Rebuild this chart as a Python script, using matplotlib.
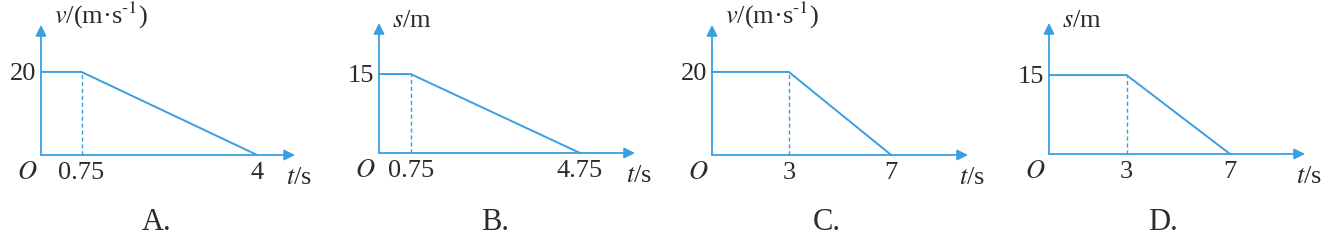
import matplotlib
matplotlib.use("Agg")
import matplotlib.pyplot as plt

# ---- chart values -------------------------------------------------------
panel_names = ["A.", "B.", "C.", "D."]
y_names = [r"$v$/(m·s$^{\text{-1}}$)", r"$s$/m",
           r"$v$/(m·s$^{\text{-1}}$)", r"$s$/m"]
top_values = [20, 15, 20, 15]
knee_times = [0.75, 0.75, 3, 3]
end_times = [4, 4.75, 7, 7]
knee_labels = ["0.75", "0.75", "3", "3"]
end_labels = ["4", "4.75", "7", "7"]

# ---- layout (pixels in a 1326x245 canvas) -------------------------------
W, H = 1326, 245
# origin x, origin y (from top), arrow tip x, arrow top y
boxes = [(41, 155, 295, 25), (379, 153, 635, 23),
         (712, 155, 968, 25), (1049, 154, 1305, 23)]
x_spans = [4.70, 6.05, 10.0, 9.9]
y_spans = [31.3, 24.7, 31.3, 24.9]
ylab_dy = [10, 2, 10, 2]
letter_x = [157, 495, 827, 1163]

blue = "#3a9fe0"
ink = "#2b2b2b"
plt.rcParams["font.family"] = ["Liberation Serif", "DejaVu Serif"]
plt.rcParams["mathtext.fontset"] = "stix"

fig = plt.figure(figsize=(W / 100, H / 100), dpi=100)
fig.patch.set_facecolor("white")

for i in range(4):
    x0, y0, xt, yt = boxes[i]
    ax = fig.add_axes([x0 / W, (H - y0) / H, (xt - x0) / W, (y0 - yt) / H])
    ax.set_xlim(0, x_spans[i])
    ax.set_ylim(0, y_spans[i])
    ax.axis("off")

    arrow = dict(arrowstyle="-|>", color=blue, lw=1.3, mutation_scale=16,
                 shrinkA=0, shrinkB=0)
    ax.annotate("", xy=(x_spans[i], 0), xytext=(0, 0), arrowprops=arrow,
                annotation_clip=False)
    ax.annotate("", xy=(0, y_spans[i]), xytext=(0, 0), arrowprops=arrow,
                annotation_clip=False)

    ax.plot([0, knee_times[i], end_times[i]],
            [top_values[i], top_values[i], 0],
            color=blue, lw=1.4, clip_on=False, solid_joinstyle="miter")
    ax.plot([knee_times[i], knee_times[i]], [0, top_values[i]],
            color=blue, lw=1.0, dashes=(3, 2), clip_on=False)

    tk = dict(textcoords="offset pixels", fontsize=19, color=ink,
              annotation_clip=False)
    ax.annotate(y_names[i], xy=(0, y_spans[i]), xytext=(13, ylab_dy[i]),
                ha="left", va="center", **tk)
    ax.annotate(str(top_values[i]), xy=(0, top_values[i]), xytext=(-5, -2),
                ha="right", va="center", **tk)
    ax.annotate(r"$O$", xy=(0, 0), xytext=(-14, -18),
                ha="center", va="center", **tk)
    ax.annotate(knee_labels[i], xy=(knee_times[i], 0), xytext=(0, -18),
                ha="center", va="center", **tk)
    ax.annotate(end_labels[i], xy=(end_times[i], 0), xytext=(0, -18),
                ha="center", va="center", **tk)
    ax.annotate(r"$t$/s", xy=(x_spans[i], 0), xytext=(4, -23),
                ha="center", va="center", **tk)

    fig.text(letter_x[i] / W, 1 - 222 / H, panel_names[i], fontsize=22,
             color=ink, ha="center", va="center")

fig.savefig("out.png", dpi=100, facecolor="white")
